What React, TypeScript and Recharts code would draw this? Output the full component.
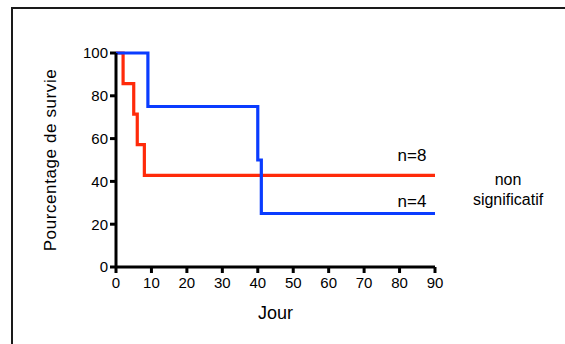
import { Line, LineChart, ReferenceDot, XAxis, YAxis } from 'recharts';

// Kaplan-Meier style survival steps (day, % survival)
const redDays = [0, 2, 5, 6, 8, 90];
const redSurvival = [100, 85.71, 71.43, 57.14, 42.86, 42.86];
const blueDays = [0, 9, 40, 41, 90];
const blueSurvival = [100, 75, 50, 25, 25];

const xTicks = [0, 10, 20, 30, 40, 50, 60, 70, 80, 90];
const yTicks = [0, 20, 40, 60, 80, 100];

const redData = redDays.map((d, i) => ({ day: d, value: redSurvival[i] }));
const blueData = blueDays.map((d, i) => ({ day: d, value: blueSurvival[i] }));

const FONT = "Arial, 'Liberation Sans', Helvetica, sans-serif";
const RED = '#ff2a0a';
const BLUE = '#0a3cff';

export default function App() {
  return (
    <div style={{ position: 'relative', width: 565, height: 344, fontFamily: FONT, background: '#fff' }}>
      <style>{'body{margin:0}'}</style>
      <div
        style={{
          position: 'absolute',
          left: 11,
          top: 7,
          width: 554,
          height: 337,
          borderLeft: '2px solid #1a1a1a',
          borderTop: '2px solid #1a1a1a',
        }}
      />
      <LineChart
        width={565}
        height={344}
        margin={{ top: 53, right: 130, bottom: 22, left: 36 }}
        style={{ position: 'absolute', left: 0, top: 0, fontFamily: FONT }}
      >
        <XAxis
          dataKey="day"
          type="number"
          domain={[0, 90]}
          ticks={xTicks}
          allowDataOverflow
          height={55}
          tickSize={6}
          tickMargin={4}
          axisLine={{ stroke: '#000', strokeWidth: 3 }}
          tickLine={{ stroke: '#000', strokeWidth: 3 }}
          tick={{ fill: '#000', fontSize: 15, fontFamily: FONT }}
          label={{ value: 'Jour', position: 'insideBottom', offset: 3, fill: '#000', fontSize: 18, fontFamily: FONT }}
        />
        <YAxis
          dataKey="value"
          type="number"
          domain={[0, 100]}
          ticks={yTicks}
          width={80}
          tickSize={6}
          tickMargin={2}
          axisLine={{ stroke: '#000', strokeWidth: 3 }}
          tickLine={{ stroke: '#000', strokeWidth: 3 }}
          tick={{ fill: '#000', fontSize: 15, fontFamily: FONT }}
          label={{
            value: 'Pourcentage de survie',
            angle: -90,
            position: 'insideLeft',
            offset: 14,
            fill: '#000',
            fontSize: 17,
            fontFamily: FONT,
            style: { textAnchor: 'middle', letterSpacing: 0.6 },
          }}
        />
        <Line
          data={redData}
          dataKey="value"
          type="stepAfter"
          stroke={RED}
          strokeWidth={3.2}
          dot={false}
          isAnimationActive={false}
        />
        <Line
          data={blueData}
          dataKey="value"
          type="stepAfter"
          stroke={BLUE}
          strokeWidth={3.2}
          dot={false}
          isAnimationActive={false}
        />
        <ReferenceDot
          x={83.5}
          y={42.86}
          r={0}
          stroke="none"
          label={{ value: 'n=8', position: 'top', offset: 14, fill: '#000', fontSize: 17, fontFamily: FONT }}
        />
        <ReferenceDot
          x={83.5}
          y={25}
          r={0}
          stroke="none"
          label={{ value: 'n=4', position: 'top', offset: 7, fill: '#000', fontSize: 17, fontFamily: FONT }}
        />
      </LineChart>
      <div
        style={{
          position: 'absolute',
          left: 458,
          top: 170,
          width: 100,
          textAlign: 'center',
          fontSize: 16,
          lineHeight: '20px',
          color: '#000',
        }}
      >
        non
        <br />
        significatif
      </div>
    </div>
  );
}
